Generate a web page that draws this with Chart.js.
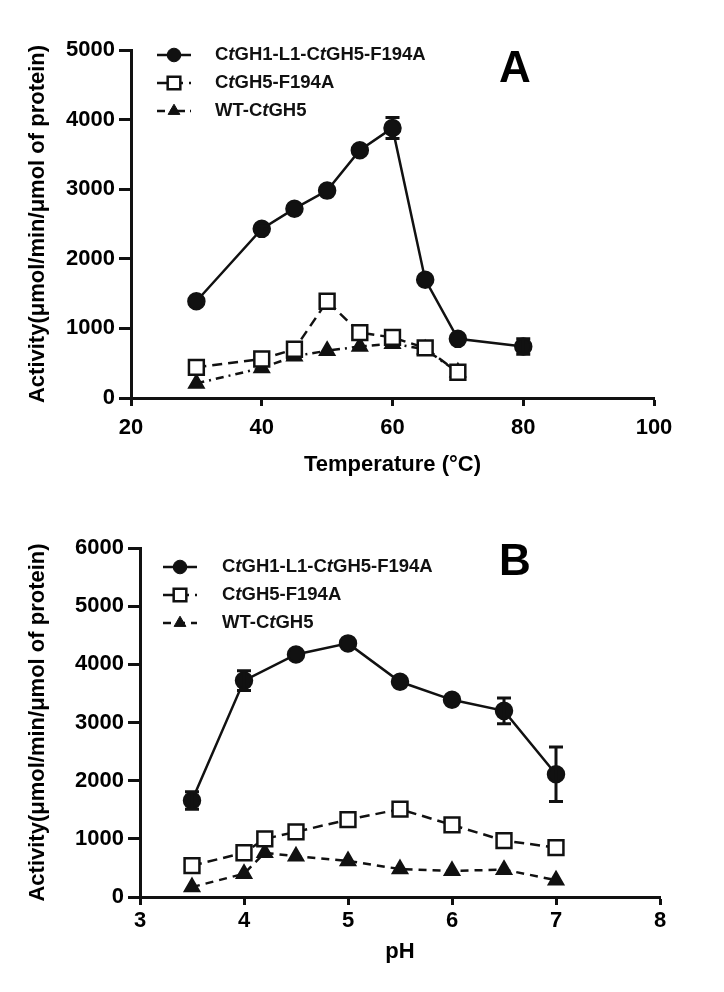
<!DOCTYPE html>
<html>
<head>
<meta charset="utf-8">
<script src="https://cdn.jsdelivr.net/npm/chart.js@4.4.1/dist/chart.umd.min.js"></script>
<style>
  html, body { margin: 0; padding: 0; background: #fff; }
  .panel { position: absolute; left: 0; width: 724px; }
</style>
</head>
<body>
<div class="panel" style="top:0;height:495px"><canvas id="chartA"></canvas></div>
<div class="panel" style="top:500px;height:492px"><canvas id="chartB"></canvas></div>
<script>
// panel A: temperature profile
const temperature = [30, 40, 45, 50, 55, 60, 65, 70, 80];
const tempFusion = [1390, 2430, 2720, 2980, 3560, 3880, 1700, 850, 740];
const tempFusionErr = [0, 40, 0, 0, 0, 150, 0, 0, 110];
const tempMutant = [440, 560, 700, 1390, 940, 870, 720, 370, null];
const tempWild = [210, 430, 600, 680, 740, 780, 700, 370, null];
const tempTicks = [20, 40, 60, 80, 100];

// panel B: pH profile
const ph = [3.5, 4, 4.2, 4.5, 5, 5.5, 6, 6.5, 7];
const phFusion = [1660, 3720, null, 4170, 4360, 3700, 3390, 3200, 2110];
const phFusionErr = [150, 170, 0, 0, 0, 0, 0, 220, 470];
const phMutant = [540, 760, 1000, 1120, 1330, 1510, 1240, 970, 850];
const phWild = [170, 400, 760, 700, 620, 480, 450, 470, 290];
const phTicks = [3, 4, 5, 6, 7, 8];

// "_t_" marks the italic t
const seriesLabels = ['C_t_GH1-L1-C_t_GH5-F194A', 'C_t_GH5-F194A', 'WT-C_t_GH5'];
const yTitle = 'Activity(\u03bcmol/min/\u03bcmol of protein)';

const FONT = '"Liberation Sans", Arial, sans-serif';
const INK = '#111';

function points(xs, ys, errs) {
  return xs.map((x, i) => ({ x: x, y: ys[i], err: errs ? errs[i] : 0 }))
    .filter(p => p.y !== null);
}

function makeDatasets(xs, a, aErr, b, c, dashC) {
  return [
    { label: seriesLabels[0], data: points(xs, a, aErr), borderColor: INK, backgroundColor: INK,
      borderWidth: 2.5, pointStyle: 'circle', pointRadius: 8, pointBackgroundColor: INK,
      pointBorderColor: INK, tension: 0 },
    { label: seriesLabels[1], data: points(xs, b), borderColor: INK, backgroundColor: '#fff',
      borderWidth: 2.5, borderDash: [10, 6], pointStyle: 'rect', pointRadius: 10.5,
      pointBorderWidth: 2.5, pointBackgroundColor: '#fff', pointBorderColor: INK, tension: 0 },
    { label: seriesLabels[2], data: points(xs, c), borderColor: INK, backgroundColor: INK,
      borderWidth: 2.5, borderDash: dashC, pointStyle: 'triangle', pointRadius: 8,
      pointBackgroundColor: INK, pointBorderColor: INK, tension: 0 }
  ];
}

const errorBars = {
  id: 'errorBars',
  afterDatasetsDraw(chart) {
    const ctx = chart.ctx;
    const ys = chart.scales.y;
    chart.data.datasets.forEach((ds, di) => {
      const meta = chart.getDatasetMeta(di);
      ds.data.forEach((p, i) => {
        if (!p.err) return;
        const el = meta.data[i];
        const top = ys.getPixelForValue(p.y + p.err);
        const bot = ys.getPixelForValue(p.y - p.err);
        ctx.save();
        ctx.strokeStyle = INK;
        ctx.lineWidth = 3;
        ctx.beginPath();
        ctx.moveTo(el.x, top); ctx.lineTo(el.x, bot);
        ctx.moveTo(el.x - 7, top); ctx.lineTo(el.x + 7, top);
        ctx.moveTo(el.x - 7, bot); ctx.lineTo(el.x + 7, bot);
        ctx.stroke();
        ctx.restore();
      });
    });
  }
};

const panelLegend = {
  id: 'panelLegend',
  afterDraw(chart, args, opts) {
    const ctx = chart.ctx;
    chart.data.datasets.forEach((ds, i) => {
      const y = opts.y + i * opts.gap;
      ctx.save();
      ctx.strokeStyle = INK;
      ctx.lineWidth = 2.5;
      ctx.setLineDash(ds.borderDash || []);
      ctx.beginPath();
      ctx.moveTo(opts.x, y); ctx.lineTo(opts.x + 34, y);
      ctx.stroke();
      ctx.setLineDash([]);
      ctx.fillStyle = ds.pointBackgroundColor;
      ctx.lineWidth = ds.pointBorderWidth || 1;
      Chart.helpers.drawPoint(ctx, {
        pointStyle: ds.pointStyle, radius: ds.pointRadius * 0.85, rotation: 0,
        borderWidth: ds.pointBorderWidth || 1
      }, opts.x + 17, y);
      // text with italic segments
      ctx.fillStyle = INK;
      ctx.textBaseline = 'middle';
      let tx = opts.textX;
      ds.label.split('_').forEach((seg, k) => {
        ctx.font = (k % 2 ? 'italic ' : '') + 'bold ' + opts.size + 'px ' + FONT;
        ctx.fillText(seg, tx, y);
        tx += ctx.measureText(seg).width;
      });
      ctx.restore();
    });
    ctx.save();
    ctx.fillStyle = '#000';
    ctx.font = 'bold 44px ' + FONT;
    ctx.textAlign = 'center';
    ctx.textBaseline = 'middle';
    ctx.fillText(opts.letter, opts.letterX, opts.letterY);
    ctx.restore();
  }
};

function axis(min, max, ticks, title, height, width, isX, titlePad, tickPad) {
  const cfg = {
    type: 'linear', min: min, max: max,
    border: { display: true, color: INK, width: 3 },
    grid: { display: true, drawOnChartArea: false, drawTicks: true, tickLength: isX ? 8 : 12,
            tickWidth: 3, tickColor: INK },
    ticks: { color: '#000', padding: tickPad, maxRotation: 0, autoSkip: false,
             font: { family: FONT, size: 22, weight: 'bold' },
             callback: v => String(v) },
    title: { display: true, text: title, color: '#000',
             font: { family: FONT, size: 22, weight: 'bold' },
             padding: isX ? { top: 0, bottom: titlePad } : { top: titlePad, bottom: 0 } },
    afterBuildTicks: s => { s.ticks = ticks.map(v => ({ value: v })); }
  };
  if (isX) cfg.afterFit = s => { s.height = height; };
  else cfg.afterFit = s => { s.width = width; };
  return cfg;
}

function build(id, xs, a, aErr, b, c, dashC, xCfg, yCfg, pad, legend) {
  return new Chart(document.getElementById(id), {
    type: 'line',
    data: { datasets: makeDatasets(xs, a, aErr, b, c, dashC) },
    options: {
      responsive: true,
      maintainAspectRatio: false,
      animation: false,
      layout: { padding: pad },
      plugins: { legend: { display: false }, tooltip: { enabled: false }, panelLegend: legend },
      scales: { x: xCfg, y: yCfg }
    },
    plugins: [errorBars, panelLegend]
  });
}

build('chartA', temperature, tempFusion, tempFusionErr, tempMutant, tempWild, [8, 5, 2, 5],
  axis(20, 100, tempTicks, 'Temperature (\u00b0C)', 97, 0, true, 17, 9),
  axis(0, 5000, [0, 1000, 2000, 3000, 4000, 5000], yTitle, 0, 131, false, 25, 4),
  { top: 50, right: 70, left: 0, bottom: 0 },
  { x: 157, y: 55, gap: 28, textX: 215, size: 18.5, letter: 'A', letterX: 515, letterY: 70 });

build('chartB', ph, phFusion, phFusionErr, phMutant, phWild, [8, 6],
  axis(3, 8, phTicks, 'pH', 95, 0, true, 27, 3),
  axis(0, 6000, [0, 1000, 2000, 3000, 4000, 5000, 6000], yTitle, 0, 140, false, 25, 4),
  { top: 48, right: 64, left: 0, bottom: 0 },
  { x: 163, y: 67, gap: 28, textX: 222, size: 18.5, letter: 'B', letterX: 515, letterY: 63 });
</script>
</body>
</html>
